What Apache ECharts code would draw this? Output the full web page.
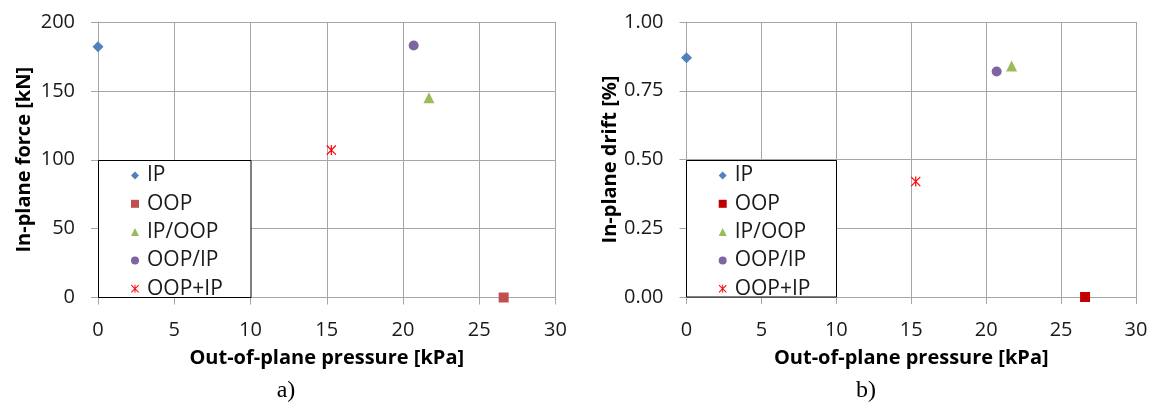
<!DOCTYPE html>
<html><head><meta charset="utf-8">
<script src="https://cdn.jsdelivr.net/npm/echarts@6/dist/echarts.min.js"></script>
<style>html,body{margin:0;padding:0;background:#fff}#c{width:1153px;height:407px}</style>
</head><body><div id="c"></div>
<script>
// ---- data ----
const seriesNames = ['IP', 'OOP', 'IP/OOP', 'OOP/IP', 'OOP+IP'];
const pressureKPa = [0, 26.6, 21.7, 20.7, 15.3];
const forceKN = [182, 0, 145, 183, 107];
const driftPct = [0.87, 0, 0.84, 0.82, 0.42];
const xTicks = [0, 30, 5];           // min, max, step
const forceTicks = [0, 200, 50];
const driftTicks = [0, 1, 0.25];
const colorsA = ['#4F81BD', '#C0504D', '#9BBB59', '#8064A2', '#FF0000'];
const colorsB = ['#4F81BD', '#C00000', '#9BBB59', '#8064A2', '#FF0000'];

// ---- styling ----
const STAR = 'path://M0,0.85L0.85,0L10,9.15L9.15,10Z M9.15,0L10,0.85L0.85,10L0,9.15Z M4.4,0L5.6,0L5.6,10L4.4,10Z';
const symbols = ['diamond', 'rect', 'triangle', 'circle', STAR];
const sizes = [11, 10, 11, 10, 10];
const FONT = 'Open Sans';
const GRID_C = '#a6a6a6';
const TXT = '#1a1a1a';

function xAxis(gi) {
  return {
    type: 'value', gridIndex: gi, min: xTicks[0], max: xTicks[1], interval: xTicks[2],
    name: 'Out-of-plane pressure [kPa]', nameLocation: 'middle', nameGap: 51,
    nameTextStyle: { fontFamily: FONT, fontWeight: 'bold', fontSize: 20, color: '#000' },
    axisLine: { show: true, onZero: false, lineStyle: { color: GRID_C } },
    axisTick: { show: true, inside: false, length: 7, lineStyle: { color: GRID_C } },
    axisLabel: { margin: 23, fontFamily: FONT, fontSize: 20, color: TXT },
    splitLine: { show: true, lineStyle: { color: GRID_C } }
  };
}
function yAxis(gi, ticks, name, fmt) {
  return {
    type: 'value', gridIndex: gi, min: ticks[0], max: ticks[1], interval: ticks[2],
    name: name, nameLocation: 'middle', nameGap: 64,
    nameTextStyle: { fontFamily: FONT, fontWeight: 'bold', fontSize: 20, color: '#000' },
    axisLine: { show: true, onZero: false, lineStyle: { color: GRID_C } },
    axisTick: { show: true, inside: false, length: 7, lineStyle: { color: GRID_C } },
    axisLabel: { margin: 23, fontFamily: FONT, fontSize: 20, color: TXT, formatter: fmt },
    splitLine: { show: true, lineStyle: { color: GRID_C } }
  };
}
function legend(left, colors) {
  return {
    orient: 'vertical', left: left, top: 165, z: 10, padding: 0,
    itemWidth: 8, itemHeight: 8, itemGap: 7.3,
    textStyle: { fontFamily: FONT, fontSize: 21, color: TXT, lineHeight: 20, padding: [0, 0, 0, 3] },
    selectedMode: false,
    data: seriesNames.map((n, i) => ({ name: n, icon: symbols[i], itemStyle: { color: colors[i], borderWidth: 0 } }))
  };
}
const series = [];
seriesNames.forEach((n, i) => {
  series.push({ type: 'scatter', name: n, xAxisIndex: 0, yAxisIndex: 0, symbol: symbols[i], symbolSize: sizes[i],
    itemStyle: { color: colorsA[i], opacity: 1 }, data: [[pressureKPa[i], forceKN[i]]] });
});
seriesNames.forEach((n, i) => {
  series.push({ type: 'scatter', name: n, xAxisIndex: 1, yAxisIndex: 1, symbol: symbols[i], symbolSize: sizes[i],
    itemStyle: { color: colorsB[i], opacity: 1 }, data: [[pressureKPa[i], driftPct[i]]] });
});

const chart = echarts.init(document.getElementById('c'), null, { renderer: 'canvas' });
chart.setOption({
  animation: false,
  backgroundColor: '#fff',
  grid: [
    { left: 98, top: 22, width: 457.5, height: 275.5 },
    { left: 686.5, top: 22, width: 449.5, height: 275 }
  ],
  xAxis: [xAxis(0), xAxis(1)],
  yAxis: [
    yAxis(0, forceTicks, 'In-plane force [kN]', v => String(v)),
    yAxis(1, driftTicks, 'In-plane drift [%]', v => v.toFixed(2))
  ],
  legend: [legend(131, colorsA), legend(718.7, colorsB)],
  graphic: [
    { type: 'rect', z: 5, shape: { x: 98.5, y: 160.5, width: 152.5, height: 137 }, style: { fill: '#fff', stroke: '#000', lineWidth: 1 } },
    { type: 'rect', z: 5, shape: { x: 686.5, y: 160.5, width: 150, height: 136.5 }, style: { fill: '#fff', stroke: '#000', lineWidth: 1 } },
    { type: 'text', x: 286, y: 391, z: 5, style: { text: 'a)', font: '24px "Liberation Serif"', textAlign: 'center', textVerticalAlign: 'middle', fill: '#000' } },
    { type: 'text', x: 866, y: 391, z: 5, style: { text: 'b)', font: '24px "Liberation Serif"', textAlign: 'center', textVerticalAlign: 'middle', fill: '#000' } }
  ],
  series: series
});
</script>
</body></html>
